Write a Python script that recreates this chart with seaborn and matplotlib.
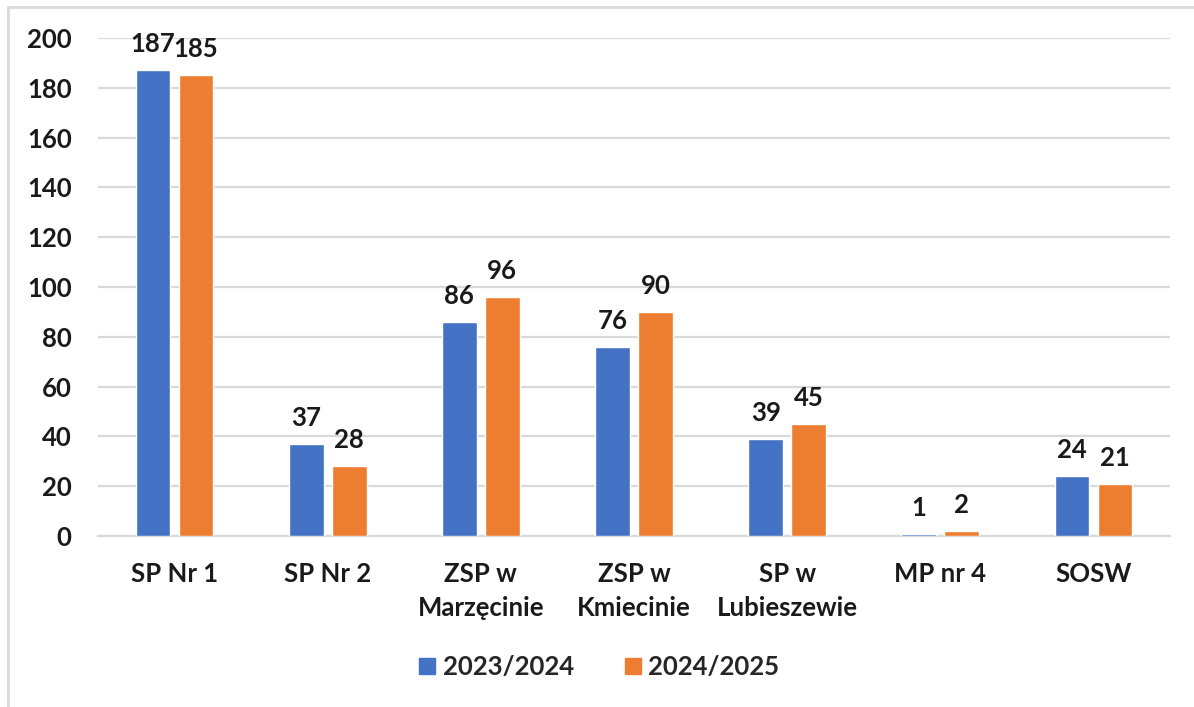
import matplotlib
matplotlib.use('Agg')
import matplotlib.pyplot as plt
from matplotlib.patches import Rectangle
import seaborn as sns
import pandas as pd

# ── Data ─────────────────────────────────────────────────────────────────────
schools = ['SP Nr 1', 'SP Nr 2', 'ZSP w\nMarzęcinie', 'ZSP w\nKmiecinie',
           'SP w\nLubieszewie', 'MP nr 4', 'SOSW']
years = ['2023/2024', '2024/2025']
vals_2023 = [187, 37, 86, 76, 39, 1, 24]
vals_2024 = [185, 28, 96, 90, 45, 2, 21]
y_ticks = [0, 20, 40, 60, 80, 100, 120, 140, 160, 180, 200]

COLORS = ['#4472C4', '#ED7D31']
GRID = '#d9d9d9'
TXT = '#1a1a1a'
FS = 18.5

df = pd.DataFrame({
    'school': schools * 2,
    'year': [years[0]] * len(schools) + [years[1]] * len(schools),
    'value': vals_2023 + vals_2024,
})

sns.set_style('white')
plt.rcParams['font.family'] = ['Lato', 'DejaVu Sans']
plt.rcParams['font.weight'] = 'bold'

fig = plt.figure(figsize=(11.94, 7.07), dpi=100)
ax = fig.add_axes([98 / 1194, 1 - 536 / 707, (1170 - 98) / 1194, (536 - 38) / 707])

sns.barplot(data=df, x='school', y='value', hue='year', order=schools,
            hue_order=years, palette=COLORS, width=0.56, gap=0.19,
            saturation=1, ax=ax, legend=False)

for cont in ax.containers:
    for p in cont.patches:
        p.set_zorder(3)
    ax.bar_label(cont, padding=10, fontsize=FS, fontweight='bold', color=TXT)

ax.set_ylim(0, 200)
ax.set_yticks(y_ticks)
ax.set_xlim(-0.5, len(schools) - 0.5)
ax.set_xticks(range(len(schools)), schools, linespacing=1.5,
              fontweight='bold')
ax.yaxis.grid(True, color=GRID, linewidth=1.6)
ax.set_axisbelow(True)
for s in ['top', 'right', 'left']:
    ax.spines[s].set_visible(False)
ax.spines['bottom'].set_color(GRID)
ax.spines['bottom'].set_linewidth(1.6)
ax.spines['bottom'].set_zorder(0.5)
ax.tick_params(axis='both', length=0, labelsize=FS, colors=TXT)
ax.tick_params(axis='x', pad=19)
ax.tick_params(axis='y', pad=19)
for lab in ax.get_yticklabels():
    lab.set_fontweight('bold')
ax.set_xlabel('')
ax.set_ylabel('')

handles = [plt.Line2D([], [], marker='s', linestyle='', markersize=12,
                      markerfacecolor=c, markeredgecolor=c) for c in COLORS]
fig.legend(handles, years, loc='center', bbox_to_anchor=(0.5, 1 - 667 / 707),
           ncol=2, frameon=False, handletextpad=0.1, handlelength=1.0,
           columnspacing=1.8, prop={'weight': 'bold', 'size': FS})

# outer chart frame (only top and left edges visible in the crop)
fig.patches.append(Rectangle((8 / 1194, -0.1), 1.2, 1 - 7 / 707 + 0.1,
                             transform=fig.transFigure, fill=False,
                             edgecolor=GRID, linewidth=2))

fig.savefig('out.png', dpi=100)
